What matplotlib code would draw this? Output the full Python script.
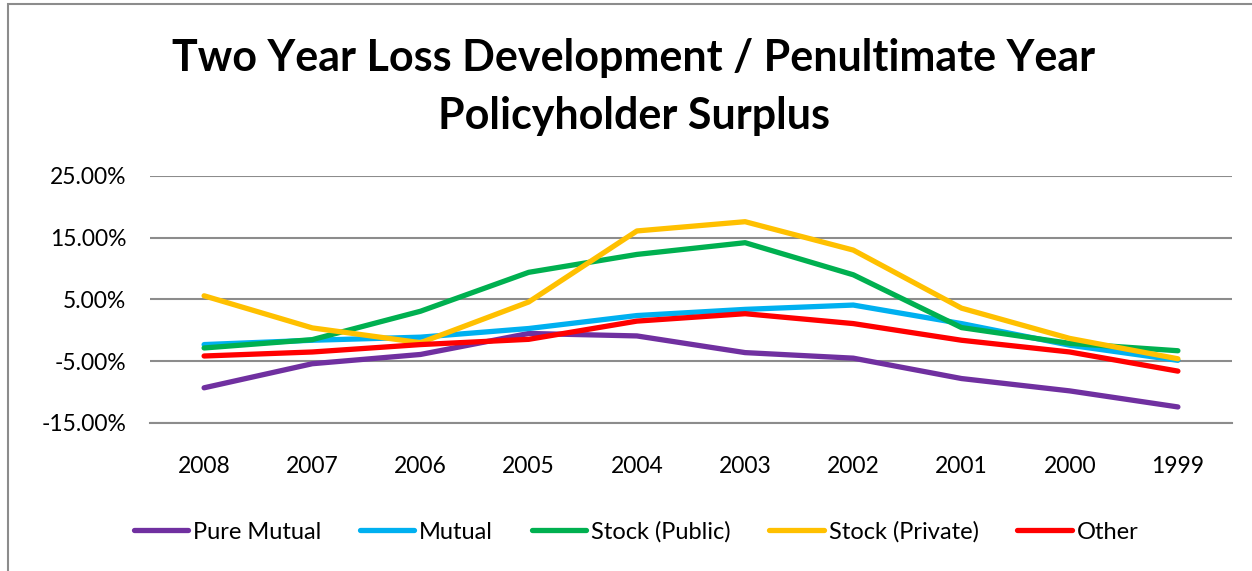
import matplotlib.pyplot as plt
from matplotlib.patches import Rectangle
from matplotlib.ticker import FuncFormatter

years = ["2008", "2007", "2006", "2005", "2004", "2003", "2002", "2001", "2000", "1999"]
pure_mutual = [-9.3, -5.4, -3.9, -0.5, -0.9, -3.6, -4.5, -7.8, -9.8, -12.4]
mutual = [-2.3, -1.6, -1.1, 0.3, 2.4, 3.4, 4.1, 1.1, -2.4, -4.85]
stock_public = [-2.85, -1.5, 3.1, 9.4, 12.3, 14.2, 9.0, 0.45, -2.1, -3.3]
stock_private = [5.6, 0.4, -2.0, 4.6, 16.1, 17.6, 13.0, 3.6, -1.3, -4.6]
other = [-4.15, -3.5, -2.3, -1.45, 1.5, 2.7, 1.1, -1.6, -3.5, -6.6]

series = [("Pure Mutual", pure_mutual, "#7030A0"),
          ("Mutual", mutual, "#00B0F0"),
          ("Stock (Public)", stock_public, "#00B050"),
          ("Stock (Private)", stock_private, "#FFC000"),
          ("Other", other, "#FF0000")]

plt.rcParams['font.family'] = ['Lato', 'DejaVu Sans']

fig = plt.figure(figsize=(12.52, 5.71), dpi=100)
# chart frame (only top/left edges visible in the crop)
fig.patches.append(Rectangle((8 / 1252, -0.05), 1.2, 1 - 4 / 571 + 0.05,
                             transform=fig.transFigure, fill=False,
                             edgecolor="#8c8c8c", linewidth=1.5))

ax = fig.add_axes([150 / 1252, 1 - 423 / 571, (1232 - 150) / 1252, (423 - 176) / 571])
x = list(range(len(years)))
for name, vals, col in series:
    ax.plot(x, [v / 100 for v in vals], color=col, linewidth=3.8, label=name,
            solid_capstyle="round", solid_joinstyle="round")

ax.set_xlim(-0.5, len(years) - 0.5)
ax.set_ylim(-0.15, 0.25)
ax.set_yticks([-0.15, -0.05, 0.05, 0.15, 0.25])
ax.yaxis.set_major_formatter(FuncFormatter(lambda v, p: f"{v * 100:.2f}%"))
ax.set_xticks(x)
ax.set_xticklabels(years)
ax.grid(axis="y", color="#8c8c8c", linewidth=1.5)
ax.set_axisbelow(True)
for s in ["top", "right", "left"]:
    ax.spines[s].set_visible(False)
ax.spines["bottom"].set_color("#8c8c8c")
ax.spines["bottom"].set_linewidth(1.5)
ax.tick_params(length=0, labelsize=16.5, colors="black")
ax.tick_params(axis="x", pad=24)
ax.tick_params(axis="y", pad=17)

fig.text(0.506, 1 - 87 / 571, "Two Year Loss Development / Penultimate Year\nPolicyholder Surplus",
         ha="center", va="center", fontsize=31, fontweight="bold", linespacing=1.55)

fig.legend(loc="center", bbox_to_anchor=(0.508, 1 - 532 / 571), ncol=5, frameon=False,
           fontsize=17, handlelength=2.3, columnspacing=1.65, handletextpad=0.2)

fig.savefig("out.png", dpi=100)
